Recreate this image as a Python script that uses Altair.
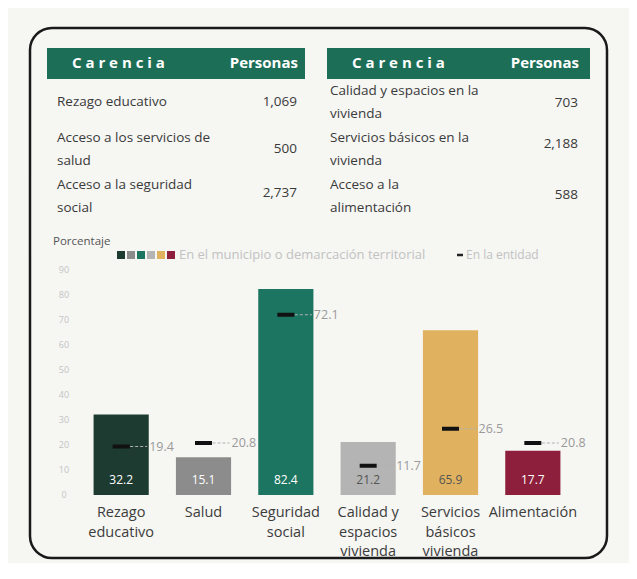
import altair as alt
import pandas as pd

# ---------------- data ----------------
categories = ["Rezago educativo", "Salud", "Seguridad social",
              "Calidad y espacios vivienda", "Servicios básicos vivienda", "Alimentación"]
cat_labels = ["Rezago\neducativo", "Salud", "Seguridad\nsocial",
              "Calidad y\nespacios\nvivienda", "Servicios\nbásicos\nvivienda", "Alimentación"]
municipio = [32.2, 15.1, 82.4, 21.2, 65.9, 17.7]
entidad = [19.4, 20.8, 72.1, 11.7, 26.5, 20.8]
bar_colors = ["#1d3b30", "#8c8c8c", "#1b7560", "#b4b4b4", "#e0b260", "#8e1f3c"]
inner_text_colors = ["#ffffff", "#ffffff", "#ffffff", "#555555", "#555555", "#ffffff"]

left_names = ["Rezago educativo", "Acceso a los servicios de\nsalud", "Acceso a la seguridad\nsocial"]
left_values = ["1,069", "500", "2,737"]
right_names = ["Calidad y espacios en la\nvivienda", "Servicios básicos en la\nvivienda", "Acceso a la\nalimentación"]
right_values = ["703", "2,188", "588"]

y_ticks = [0, 10, 20, 30, 40, 50, 60, 70, 80, 90]

FONT = "Open Sans"
M = 8  # page margin


def P(v):
    return v - M


bars_df = pd.DataFrame({
    "cat": categories, "label": cat_labels, "mun": municipio, "ent": entidad,
    "color": bar_colors, "tcolor": inner_text_colors,
})
bars_df["mun_txt"] = bars_df["mun"].map(lambda v: f"{v:.1f}")
bars_df["ent_txt"] = bars_df["ent"].map(lambda v: f"{v:.1f}")

xs = alt.Scale(domain=categories, range=[P(80), P(574)], paddingInner=0.33, paddingOuter=0.165)
ys = alt.Scale(domain=[0, 90], range=[P(495), P(270)], nice=False, zero=True)
X = alt.X("cat:N", scale=xs, axis=None, sort=categories)

# ---------------- frame ----------------
frame = alt.Chart(pd.DataFrame({"a": [0]})).mark_rect(
    fill=None, stroke="#1a1a1a", strokeWidth=2.5, cornerRadius=22
).encode(x=alt.value(P(30)), x2=alt.value(P(607)), y=alt.value(P(28)), y2=alt.value(P(558)))

# ---------------- tables ----------------
HEAD = "#1c6e57"
hdr_l = alt.Chart(pd.DataFrame({"a": [0]})).mark_rect(fill=HEAD).encode(
    x=alt.value(P(47)), x2=alt.value(P(305)), y=alt.value(P(48)), y2=alt.value(P(79)))
hdr_r = alt.Chart(pd.DataFrame({"a": [0]})).mark_rect(fill=HEAD).encode(
    x=alt.value(P(327)), x2=alt.value(P(590)), y=alt.value(P(48)), y2=alt.value(P(79)))


def hdr_text(txt, xpos, align, size):
    return alt.Chart(pd.DataFrame({"t": [txt]})).mark_text(
        font=FONT, fontSize=size, fontWeight="bold", color="white", align=align, baseline="middle"
    ).encode(text="t:N", x=alt.value(P(xpos)), y=alt.value(P(63)))


headers = [
    hdr_text("C a r e n c i a", 72, "left", 15),
    hdr_text("Personas", 298, "right", 15),
    hdr_text("C a r e n c i a", 352, "left", 15),
    hdr_text("Personas", 579, "right", 15),
]


def table_layer(names, values, name_x, val_x, val_off):
    df = pd.DataFrame({"name": names, "val": values, "i": list(range(len(names))),
                       "vo": val_off})
    base = alt.Chart(df).transform_calculate(
        ny=f"{P(102)} + datum.i * 47 - (indexof(datum.name, '\\n') >= 0 ? 11.5 : 0)",
        vy=f"{P(102)} + datum.i * 47 + datum.vo",
    )
    n = base.mark_text(font=FONT, fontSize=13.5, color="#3a3a3a", align="left",
                       baseline="middle", lineHeight=23, lineBreak="\n").encode(
        text="name:N", x=alt.value(P(name_x)), y=alt.Y("ny:Q", scale=None))
    v = base.mark_text(font=FONT, fontSize=13.5, color="#3a3a3a", align="right",
                       baseline="middle").encode(
        text="val:N", x=alt.value(P(val_x)), y=alt.Y("vy:Q", scale=None))
    return [n, v]


tables = (table_layer(left_names, left_values, 57, 297, [0, 0, -3])
          + table_layer(right_names, right_values, 330, 578, [1, -5, -1]))

# ---------------- legend ----------------
porc = alt.Chart(pd.DataFrame({"t": ["Porcentaje"]})).mark_text(
    font=FONT, fontSize=11.5, color="#555555", align="left", baseline="middle"
).encode(text="t:N", x=alt.value(P(53)), y=alt.value(P(242)))

leg_df = pd.DataFrame({"i": list(range(6)), "color": bar_colors})
leg_sq = alt.Chart(leg_df).transform_calculate(
    px=f"{P(121)} + datum.i * 10"
).mark_square(size=64, opacity=1, filled=True).encode(
    x=alt.X("px:Q", scale=None), y=alt.value(P(255)), color=alt.Color("color:N", scale=None))

leg_t1 = alt.Chart(pd.DataFrame({"t": ["En el municipio o demarcación territorial"]})).mark_text(
    font=FONT, fontSize=13, color="#c2c2c2", align="left", baseline="middle"
).encode(text="t:N", x=alt.value(P(179)), y=alt.value(P(255)))
leg_dash = alt.Chart(pd.DataFrame({"a": [0]})).mark_rule(color="#222222", strokeWidth=2.5).encode(
    x=alt.value(P(457)), x2=alt.value(P(463)), y=alt.value(P(255)))
leg_t2 = alt.Chart(pd.DataFrame({"t": ["En la entidad"]})).mark_text(
    font=FONT, fontSize=12, color="#c2c2c2", align="left", baseline="middle"
).encode(text="t:N", x=alt.value(P(466)), y=alt.value(P(255)))

# ---------------- y tick labels ----------------
ytick = alt.Chart(pd.DataFrame({"v": y_ticks})).mark_text(
    font=FONT, fontSize=9, color="#c4c4c4", align="center", baseline="middle"
).encode(text="v:Q", x=alt.value(P(64)), y=alt.Y("v:Q", scale=ys, axis=None))

# ---------------- bars ----------------
bc = alt.Chart(bars_df)
bars = bc.mark_bar().encode(
    x=X, y=alt.Y("mun:Q", scale=ys, axis=None), y2=alt.datum(0),
    color=alt.Color("color:N", scale=None))

inner = bc.transform_calculate(base="0").mark_text(
    font=FONT, fontSize=12, baseline="middle", dy=-15
).encode(x=X, y=alt.Y("base:Q", scale=ys), text="mun_txt:N",
         color=alt.Color("tcolor:N", scale=None))

dash = bc.mark_rule(color="#b0b0b0", strokeDash=[3, 2], strokeWidth=1, xOffset=9, x2Offset=26).encode(
    x=X, x2="cat:N", y=alt.Y("ent:Q", scale=ys))

ent_tick = bc.mark_tick(color="#111111", size=17, thickness=4, opacity=1).encode(
    x=X, y=alt.Y("ent:Q", scale=ys))

ent_lbl = bc.mark_text(font=FONT, fontSize=12.5, color="#9a9a9a", align="left",
                       baseline="middle", dx=28).encode(
    x=X, y=alt.Y("ent:Q", scale=ys), text="ent_txt:N")

xlab = bc.mark_text(font=FONT, fontSize=14.5, color="#3c3c3c", align="center",
                    baseline="top", lineHeight=19.5, lineBreak="\n").encode(
    x=X, y=alt.value(P(506)), text="label:N")

chart = alt.layer(
    frame, hdr_l, hdr_r, *headers, *tables,
    porc, leg_sq, leg_t1, leg_dash, leg_t2,
    ytick, bars, dash, ent_tick, ent_lbl, inner, xlab,
).properties(
    width=621, height=555, background="#f6f6f3", padding=0,
    autosize=alt.AutoSizeParams(type="none"),
).configure_view(stroke=None)

chart.save("out.html", embed_options={"renderer": "svg", "actions": False})
